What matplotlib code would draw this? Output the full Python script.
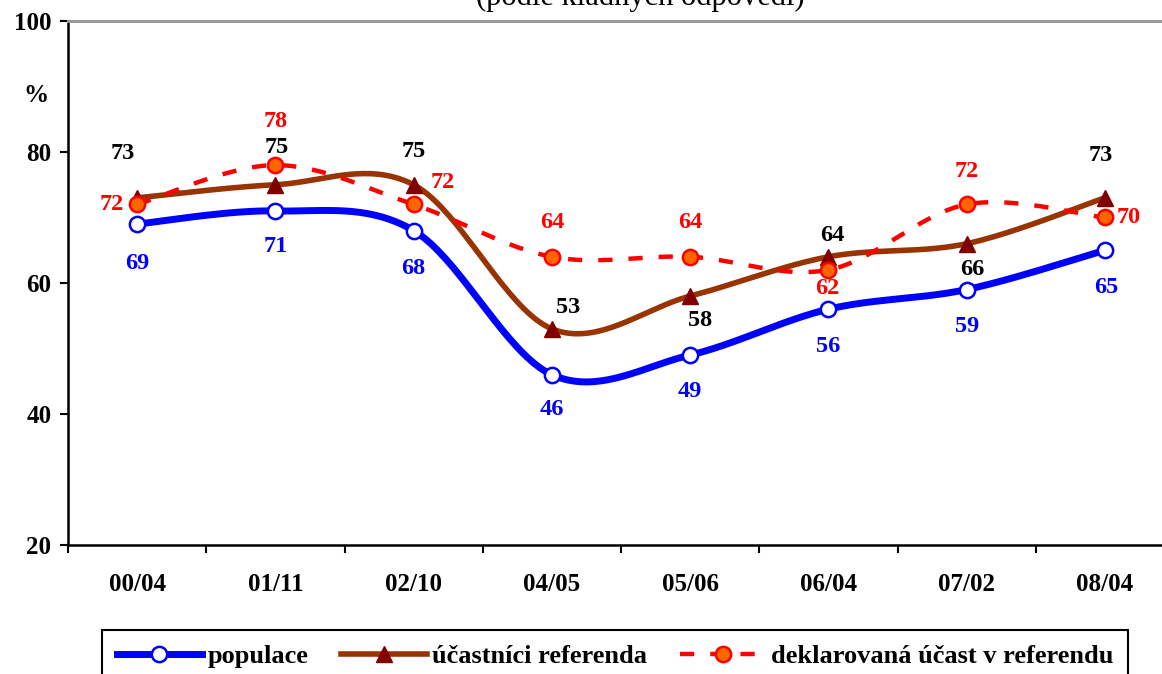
import numpy as np
import matplotlib as mpl
import matplotlib.pyplot as plt
from matplotlib.lines import Line2D

mpl.rc('font', family='Liberation Serif', size=17, weight='bold')
mpl.rc('figure', facecolor='w')

categories = ["00/04", "01/11", "02/10", "04/05", "05/06", "06/04", "07/02", "08/04"]
populace = [69, 71, 68, 46, 49, 56, 59, 65]
ucastnici = [73, 75, 75, 53, 58, 64, 66, 73]
deklarovana = [72, 78, 72, 64, 64, 62, 72, 70]
series_names = ["populace", "účastníci referenda", "deklarovaná účast v referendu"]
title = "(podle kladných odpovědí)"

# label offsets in pixels (dx, dy), kept apart from the data
pop_off = [(0, -39), (0, -36), (0, -38), (0, -35), (0, -36), (0, -37), (0, -37), (1, -37)]
uca_off = [(-14, 44), (1, 37), (0, 33), (16, 21), (10, -24), (4, 21), (6, -26), (-4, 42)]
dek_off = [(-25, 0), (0, 44), (29, 22), (0, 34), (0, 34), (-1, -19), (0, 33), (24, 0)]


def smooth(y, n=40):
    # Excel style bezier smoothing
    y = np.asarray(y, dtype=float)
    x = np.arange(len(y), dtype=float)
    px = np.concatenate([[x[0]], x, [x[-1]]])
    py = np.concatenate([[y[0]], y, [y[-1]]])
    xs, ys = [], []
    t = np.linspace(0, 1, n)
    for i in range(len(y) - 1):
        p0x, p0y = px[i + 1], py[i + 1]
        p3x, p3y = px[i + 2], py[i + 2]
        c1x = p0x + (px[i + 2] - px[i]) / 6.0
        c1y = p0y + (py[i + 2] - py[i]) / 6.0
        c2x = p3x - (px[i + 3] - px[i + 1]) / 6.0
        c2y = p3y - (py[i + 3] - py[i + 1]) / 6.0
        b = [(1 - t) ** 3, 3 * (1 - t) ** 2 * t, 3 * (1 - t) * t ** 2, t ** 3]
        xs.append(b[0] * p0x + b[1] * c1x + b[2] * c2x + b[3] * p3x)
        ys.append(b[0] * p0y + b[1] * c1y + b[2] * c2y + b[3] * p3y)
    return np.concatenate(xs), np.concatenate(ys)


W, H = 1162, 674
fig = plt.figure(figsize=(W / 100, H / 100), dpi=100)
ax = fig.add_axes([68 / W, 1 - 545 / H, (1174 - 68) / W, (545 - 21) / H])

x = np.arange(len(categories))

styles = [
    dict(color='#0000FF', lw=5.0, marker='o', ms=11, mfc='white', mec='#0000FF', mew=1.8, ls='-'),
    dict(color='#993300', lw=4.0, marker='^', ms=12, mfc='#800000', mec='#800000', mew=1, ls='-'),
    dict(color='#FF0000', lw=3.2, marker='o', ms=11, mfc='#FF6600', mec='#FF0000', mew=1.8, ls=(0, (3.2, 3.6))),
]
label_colors = ['#0000FF', 'black', '#FF0000']
all_data = [populace, ucastnici, deklarovana]
all_offs = [pop_off, uca_off, dek_off]

handles = []
for k, (vals, st) in enumerate(zip(all_data, styles)):
    sx, sy = smooth(vals)
    ax.plot(sx, sy, color=st['color'], lw=st['lw'], ls=st['ls'], zorder=2 + k,
            solid_capstyle='butt', dash_capstyle='butt')
    ax.plot(x, vals, ls='none', marker=st['marker'], ms=st['ms'], mfc=st['mfc'],
            mec=st['mec'], mew=st['mew'], zorder=2.5 + k, clip_on=False)
    for xi, v, (dx, dy) in zip(x, vals, all_offs[k]):
        ax.annotate(str(v), (xi, v), xytext=(dx * 0.72, dy * 0.72), textcoords='offset points',
                    ha='center', va='center', color=label_colors[k], fontsize=17.5,
                    fontweight='bold', zorder=10)
    handles.append(Line2D([], [], color=st['color'], lw=st['lw'], ls=st['ls'], marker=st['marker'],
                          ms=st['ms'], mfc=st['mfc'], mec=st['mec'], mew=st['mew']))

ax.set_xlim(-0.5, len(categories) - 0.5)
ax.set_ylim(20, 100)
ax.set_yticks([20, 40, 60, 80, 100])
ax.set_xticks(x)
ax.set_xticklabels(categories)
ax.set_xticks(np.arange(-0.5, len(categories) - 0.4, 1), minor=True)
ax.tick_params(axis='x', which='major', length=0, pad=20, labelsize=18)
ax.tick_params(axis='x', which='minor', length=6, width=1.5, direction='out')
ax.tick_params(axis='y', which='major', length=6, width=1.5, direction='out', pad=6, labelsize=18)

for s in ['left', 'bottom']:
    ax.spines[s].set_color('black')
    ax.spines[s].set_linewidth(1.8)
ax.spines['top'].set_color('#999999')
ax.spines['top'].set_linewidth(2.2)
ax.spines['right'].set_visible(False)

fig.text(36 / W, 1 - 96 / H, '%', ha='center', va='center', fontsize=18, fontweight='bold')
fig.text(640 / W, 1 - 5 / H, title, ha='center', va='baseline', fontsize=22, fontweight='normal')

leg = fig.legend(handles, series_names, loc='upper left', bbox_to_anchor=(102 / W, 1 - 630 / H),
                 ncol=3, fancybox=False, edgecolor='black', framealpha=1, borderpad=0.55,
                 handlelength=3.25, handletextpad=0.2, columnspacing=1.25, borderaxespad=0,
                 prop=dict(family='Liberation Serif', weight='bold', size=19))
leg.get_frame().set_linewidth(1.5)

fig.savefig('out.png', dpi=100)
